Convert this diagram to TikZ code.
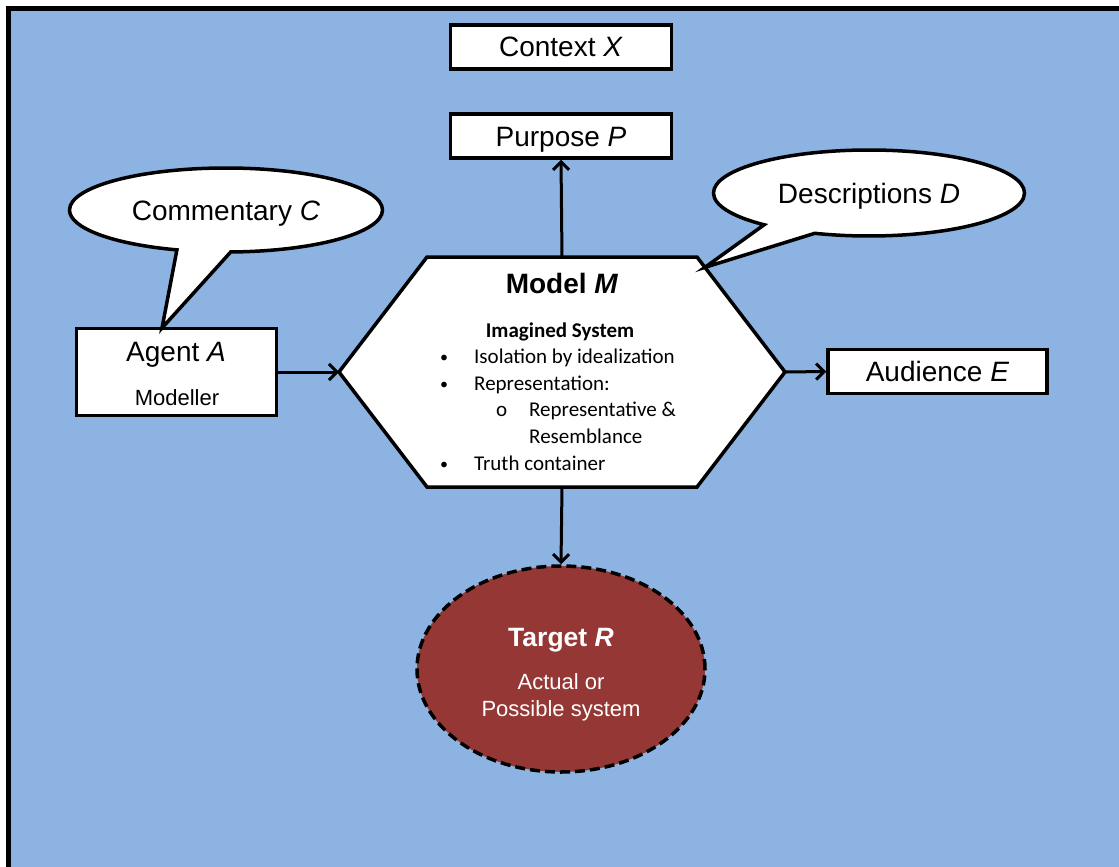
\documentclass[tikz,border=0pt]{standalone}
\usepackage{fontspec}
\setmainfont{Liberation Sans}
\newfontfamily\carlito{Carlito}
\usetikzlibrary{shapes.callouts,shapes.geometric,arrows.meta,calc}
\definecolor{skyfill}{HTML}{8DB3E2}
\definecolor{targetred}{HTML}{953735}
\newcommand{\smallbullet}{\raisebox{1pt}{\fontsize{16}{16}\selectfont\textbullet}}
\tikzset{
  box/.style={draw=black, line width=3.5pt, fill=white, inner sep=0pt,
    minimum width=221pt, minimum height=44pt,
    font=\fontsize{28}{33}\selectfont, text height=20pt, text depth=0pt},
  bubble/.style={ellipse callout, draw=black, line width=3.5pt, fill=white,
    inner sep=0pt, font=\fontsize{28}{33}\selectfont, text height=20pt, text depth=0pt},
  flow/.style={line width=3pt, -{Straight Barb[length=8pt,width=16pt]}},
  hexa/.style={draw=black, line width=3.5pt, fill=white, line join=miter},
  listtext/.style={anchor=base west, inner sep=0pt, font=\carlito\fontsize{21}{26}\selectfont},
  whitetext/.style={anchor=base, inner sep=0pt, text=white},
  plain/.style={anchor=base, inner sep=0pt},
}
\begin{document}
\begin{tikzpicture}[x=1pt,y=-1pt]
  % page, frame and backdrop
  \useasboundingbox (0,0) rectangle (1119,867);
  \fill[white] (0,0) rectangle (1119,867);
  \fill[black] (6,6) rectangle (1119,867);
  \fill[skyfill] (11,11) rectangle (1119,867);

  % the model hexagon
  \coordinate (mW)  at (339,372);
  \coordinate (mNW) at (427,257);
  \coordinate (mNE) at (697,257);
  \coordinate (mE)  at (785,372);
  \coordinate (mSE) at (697,487);
  \coordinate (mSW) at (427,487);
  \coordinate (mN)  at (562,257);
  \coordinate (mS)  at (562,487);
  \draw[hexa] (mW) -- (mNW) -- (mNE) -- (mE) -- (mSE) -- (mSW) -- cycle;

  \node[plain, font=\bfseries\fontsize{28}{33}\selectfont] (mtitle) at (562,293) {Model \textit{M}};
  \node[anchor=base, inner sep=0pt, font=\carlito\bfseries\fontsize{21}{26}\selectfont] (imag) at (560,337) {Imagined System};
  \node[listtext] (b1) at (440,363.5) {\makebox[34pt][l]{\smallbullet}Isolation by idealization};
  \node[listtext] (b2) at (440,390.2) {\makebox[34pt][l]{\smallbullet}Representation:};
  \node[listtext] (b3) at (496,416.9) {\makebox[33pt][l]{o}Representative \&};
  \node[listtext] (b4) at (529,443.6) {Resemblance};
  \node[listtext] (b5) at (440,470.3) {\makebox[34pt][l]{\smallbullet}Truth container};

  % boxes
  \node[box] (context)  at (561,47)    {Context \textit{X}};
  \node[box] (purpose)  at (561,136)   {Purpose \textit{P}};
  \node[box, minimum width=219pt] (audience) at (937.5,371.5) {Audience \textit{E}};
  \node[box, minimum width=200pt, minimum height=87pt] (agent) at (176.5,372) {};
  \node[plain, font=\fontsize{28}{33}\selectfont] (agentname) at (176,361) {Agent \textit{A}};
  \node[plain, font=\fontsize{22}{26}\selectfont] (agentrole) at (177,405) {Modeller};

  % speech bubbles
  \coordinate (cTip) at (162,328);
  \coordinate (dTip) at ($(mNE)!0.09!(mE)$);
  \node[bubble, minimum width=313pt, minimum height=84pt, callout pointer arc=20,
        callout absolute pointer={(cTip)}] (comment) at (226,210) {Commentary \textit{C}};
  \node[bubble, minimum width=311pt, minimum height=86pt, callout pointer arc=22,
        callout absolute pointer={(dTip)}] (descr) at (869,193) {Descriptions \textit{D}};

  % target system
  \node[ellipse, draw=black, line width=3.5pt, dash pattern=on 10pt off 5pt,
        fill=targetred, minimum width=288pt, minimum height=206pt, inner sep=0pt] (target) at (561,669) {};
  \node[whitetext, font=\bfseries\fontsize{26.5}{31}\selectfont] (tname) at (561,646) {Target \textit{R}};
  \node[whitetext, font=\fontsize{22}{26}\selectfont] (tline1) at (561,689) {Actual or};
  \node[whitetext, font=\fontsize{22}{26}\selectfont] (tline2) at (561,716) {Possible system};

  % connectors
  \draw[flow] (agent.east) -- (mW);
  \draw[flow] (mN) -- (purpose.south);
  \draw[flow] (mE) -- (audience.west);
  \draw[flow] (mS) -- (target.north);
\end{tikzpicture}
\end{document}
